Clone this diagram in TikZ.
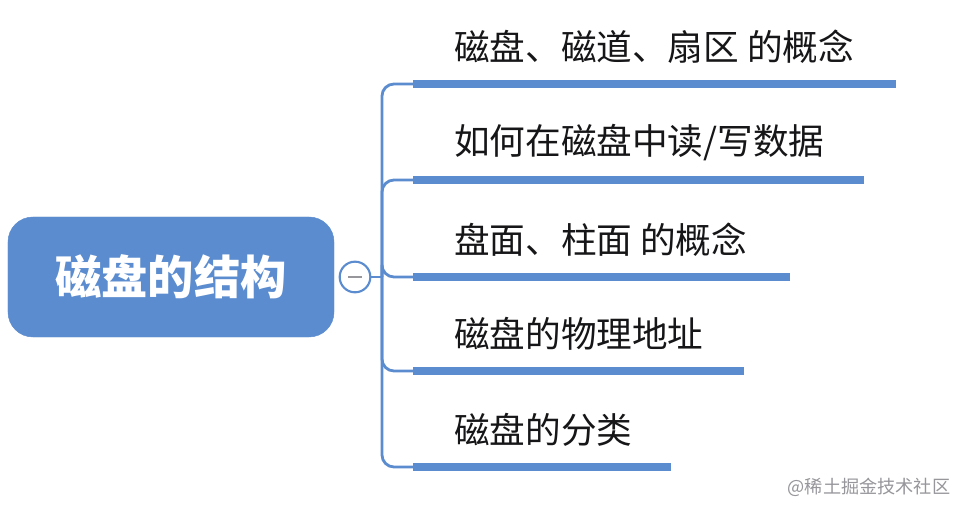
\documentclass[tikz,border=0pt]{standalone}
\usepackage{fontspec}
\setmainfont{Noto Sans CJK SC}
\usepackage{xcolor}
\usepackage{tikz}
\usetikzlibrary{positioning,calc}
\definecolor{ink}{RGB}{22,22,24}
\definecolor{grey}{RGB}{150,150,155}
\definecolor{hi}{RGB}{91,140,207}

\begin{document}
\begin{tikzpicture}[x=0.03cm,y=-0.03cm,
 root/.style={draw=hi,fill=hi,rounded corners=0.75cm,minimum width=9.78cm,minimum height=3.6cm,inner sep=0pt,
   text=white,font=\bfseries\fontsize{39.5}{41}\selectfont},
 fold/.style={circle,draw=hi,line width=1.8pt,fill=white,minimum size=0.92cm,inner sep=0pt},
 item/.style={anchor=west,inner sep=0pt,text=ink,font=\fontsize{30.4}{32}\selectfont},
 bar/.style={hi,line width=6.6pt},
 link/.style={hi,line width=2.4pt,rounded corners=0.36cm}]
 \useasboundingbox[fill=white] (0,0) rectangle (966,514);
 \node[root] (r) at (171,277) {磁盘的结构};
 \node[fold] (f) at (355,277) {};
 \draw[grey,line width=2.4pt] ($(f.center)+(-7,0)$) -- ($(f.center)+(7,0)$);
 \coordinate (spine) at (382,277);
 \draw[link] (f.east) -- (spine);
 \foreach \i/\y/\xe/\txt in {1/84/896/{磁盘、磁道、扇区 的概念},2/180/864/{如何在磁盘中读/写数据},
   3/277/790/{盘面、柱面 的概念},4/371/744/{磁盘的物理地址},5/467/671/{磁盘的分类}}{
   \coordinate (b\i) at (413,\y); \coordinate (e\i) at (\xe,\y);
   \draw[link] (spine) |- (b\i);
   \draw[bar] (b\i) -- (e\i);
   \node[item] (t\i) at (454,\y-37) {\txt};
 }
 \node[text=grey,font=\fontsize{15.5}{17}\selectfont] (wm) at (869,487) {@稀土掘金技术社区};
\end{tikzpicture}
\end{document}
